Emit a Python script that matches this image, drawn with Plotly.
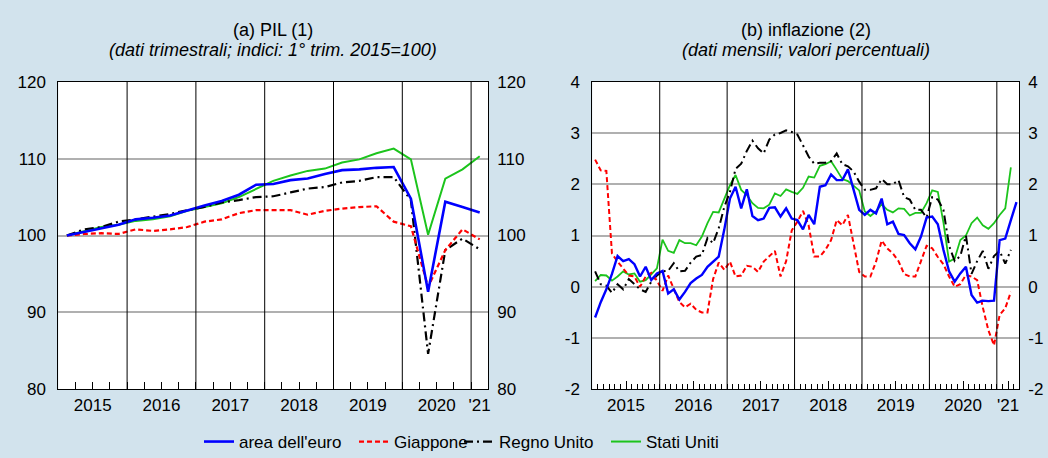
import plotly.graph_objects as go

# ------------------------------------------------------------------ data
YEARS = [2015, 2016, 2017, 2018, 2019, 2020, 2021]
YEAR_LABELS = ["2015", "2016", "2017", "2018", "2019", "2020", "'21"]

QUARTERS = [f"{y}Q{q}" for y in range(2015, 2021) for q in range(1, 5)] + ["2021Q1"]
MONTHS = [f"{y}-{m:02d}" for y in range(2015, 2021) for m in range(1, 13)] + \
         ["2021-01", "2021-02", "2021-03", "2021-04"]

SERIES_NAMES = ["area dell'euro", "Giappone", "Regno Unito", "Stati Uniti"]

# (a) GDP, quarterly index, 2015Q1 = 100
GDP_EURO = [100.0, 100.5, 100.9, 101.4, 102.1, 102.3, 102.6, 103.3, 103.9, 104.5,
            105.3, 106.6, 106.7, 107.2, 107.4, 108.0, 108.5, 108.6, 108.8, 108.9,
            104.8, 92.7, 104.4, 103.7, 103.0]
GDP_JAPAN = [100.0, 100.2, 100.3, 100.2, 100.8, 100.6, 100.8, 101.1, 101.8, 102.1,
             102.9, 103.3, 103.3, 103.3, 102.7, 103.2, 103.5, 103.7, 103.8, 101.8,
             101.2, 93.3, 98.1, 100.8, 99.5]
GDP_UK = [100.0, 100.8, 101.1, 101.8, 102.1, 102.5, 102.8, 103.3, 103.7, 104.3,
          104.6, 105.0, 105.1, 105.6, 106.1, 106.3, 106.9, 107.1, 107.6, 107.6,
          104.6, 84.6, 98.1, 99.6, 98.2]
GDP_US = [100.0, 100.6, 101.1, 101.4, 101.9, 102.1, 102.5, 103.2, 103.7, 104.2,
          105.0, 106.1, 107.1, 107.8, 108.4, 108.7, 109.5, 109.9, 110.7, 111.3,
          109.9, 100.1, 107.4, 108.6, 110.3]

# (b) inflation, monthly, percent
INFL_EURO = [-0.6, -0.3, -0.05, 0.25, 0.6, 0.5, 0.54, 0.44, 0.2, 0.39, 0.13, 0.26,
             0.31, -0.13, -0.05, -0.25, -0.1, 0.07, 0.16, 0.23, 0.39, 0.5, 0.59, 1.12,
             1.72, 1.95, 1.53, 1.9, 1.38, 1.3, 1.33, 1.54, 1.55, 1.37, 1.53, 1.33,
             1.3, 1.12, 1.4, 1.22, 1.95, 1.98, 2.19, 2.08, 2.08, 2.29, 1.89, 1.5,
             1.4, 1.5, 1.43, 1.72, 1.22, 1.27, 1.03, 1.01, 0.85, 0.73, 0.98, 1.35,
             1.37, 1.22, 0.72, 0.3, 0.1, 0.26, 0.39, -0.16, -0.31, -0.27, -0.28, -0.27,
             0.91, 0.94, 1.3, 1.65]
INFL_JAPAN = [2.48, 2.27, 2.26, 0.65, 0.49, 0.36, 0.22, 0.2, 0.0, 0.2, 0.27, 0.12,
              -0.08, 0.22, -0.05, -0.3, -0.4, -0.33, -0.45, -0.5, -0.5, 0.15, 0.47, 0.33,
              0.49, 0.2, 0.22, 0.41, 0.39, 0.29, 0.49, 0.59, 0.7, 0.2, 0.5, 1.1,
              1.27, 1.48, 1.2, 0.59, 0.59, 0.72, 0.91, 1.3, 1.2, 1.4, 0.81, 0.29,
              0.2, 0.2, 0.49, 0.9, 0.75, 0.65, 0.5, 0.25, 0.2, 0.2, 0.5, 0.8,
              0.75, 0.58, 0.44, 0.2, 0.0, 0.05, 0.23, 0.2, 0.13, -0.4, -0.85, -1.14,
              -0.55, -0.42, -0.1]
INFL_UK = [0.3, 0.05, 0.02, -0.12, 0.05, -0.05, 0.15, 0.05, -0.05, -0.1, 0.1, 0.22,
           0.3, 0.31, 0.46, 0.3, 0.31, 0.47, 0.59, 0.62, 0.95, 0.85, 1.14, 1.56,
           1.85, 2.3, 2.4, 2.65, 2.85, 2.7, 2.6, 2.87, 2.97, 3.0, 3.05, 3.02,
           2.97, 2.76, 2.54, 2.4, 2.42, 2.42, 2.45, 2.6, 2.39, 2.35, 2.25, 2.05,
           1.89, 1.89, 1.92, 2.1, 2.0, 2.0, 2.08, 1.75, 1.7, 1.5, 1.5, 1.35,
           1.75, 1.7, 1.5, 0.8, 0.5, 0.6, 1.0, 0.25, 0.5, 0.7, 0.35, 0.6,
           0.7, 0.45, 0.72]
INFL_US = [0.11, 0.23, 0.22, 0.12, 0.2, 0.3, 0.24, 0.26, 0.1, 0.13, 0.24, 0.36,
           0.92, 0.7, 0.66, 0.91, 0.85, 0.85, 0.81, 0.98, 1.24, 1.46, 1.45, 1.72,
           1.98, 2.18, 1.89, 1.79, 1.63, 1.54, 1.53, 1.6, 1.82, 1.77, 1.9, 1.85,
           1.81, 1.93, 2.15, 2.13, 2.36, 2.39, 2.45, 2.28, 2.1, 2.06, 1.97, 1.88,
           1.47, 1.38, 1.47, 1.61, 1.5, 1.45, 1.53, 1.52, 1.39, 1.44, 1.44, 1.63,
           1.88, 1.85, 1.25, 0.49, 0.55, 0.91, 1.0, 1.24, 1.35, 1.2, 1.13, 1.24,
           1.4, 1.53, 2.33]

GDP_TICKS = [80, 90, 100, 110, 120]
INFL_TICKS = [-2, -1, 0, 1, 2, 3, 4]
INFL_BLACK_LINE = -1

# ------------------------------------------------------------------ helpers
def qpos(label):
    return int(label[:4]) + (int(label[-1]) - 0.5) / 4


def mpos(label):
    return int(label[:4]) + (int(label[5:]) - 0.5) / 12


xq = [qpos(q) for q in QUARTERS]
xm = [mpos(m) for m in MONTHS]
q_end = xq[-1] + 0.125
m_end = xm[-1] + 1 / 24

STYLE = {
    "area dell'euro": dict(color="#0000ff", width=2.6, dash="solid"),
    "Giappone": dict(color="#ff0000", width=2.2, dash="5px,3px"),
    "Regno Unito": dict(color="#000000", width=2.2, dash="9px,4px,2px,4px"),
    "Stati Uniti": dict(color="#1cc41c", width=2.0, dash="solid"),
}
LEGEND_OF = {"area dell'euro": "legend", "Giappone": "legend2",
             "Regno Unito": "legend3", "Stati Uniti": "legend4"}

gdp = {"area dell'euro": GDP_EURO, "Giappone": GDP_JAPAN,
       "Regno Unito": GDP_UK, "Stati Uniti": GDP_US}
infl = {"area dell'euro": INFL_EURO, "Giappone": INFL_JAPAN,
        "Regno Unito": INFL_UK, "Stati Uniti": INFL_US}

FONT = "Liberation Sans, Arial, Helvetica, sans-serif"
BG = "#d2e3ed"
W, H = 1048, 458

fig = go.Figure()
draw_order = ["Stati Uniti", "Regno Unito", "Giappone", "area dell'euro"]
for name in draw_order:
    st = STYLE[name]
    fig.add_trace(go.Scatter(x=xq, y=gdp[name], mode="lines", name=name,
                             line=dict(color=st["color"], width=st["width"], dash=st["dash"]),
                             xaxis="x", yaxis="y", legend=LEGEND_OF[name], showlegend=True))
for name in draw_order:
    st = STYLE[name]
    vals = infl[name]
    fig.add_trace(go.Scatter(x=xm[:len(vals)], y=vals, mode="lines", name=name,
                             line=dict(color=st["color"], width=st["width"] - 0.2, dash=st["dash"]),
                             xaxis="x2", yaxis="y2", showlegend=False))
# carriers for right-hand tick labels
fig.add_trace(go.Scatter(x=[None], y=[None], xaxis="x", yaxis="y3", showlegend=False, hoverinfo="skip"))
fig.add_trace(go.Scatter(x=[None], y=[None], xaxis="x2", yaxis="y4", showlegend=False, hoverinfo="skip"))

# ------------------------------------------------------------------ layout
LX = [58.3 / W, 488.3 / W]
RX = [592.3 / W, 1019.3 / W]
YD = [1 - 389.3 / H, 1 - 81.7 / H]
tickfont = dict(family=FONT, size=17, color="#000")

q_bounds = [x - 0.125 for x in xq[1:]]
m_bounds = [x - 1 / 24 for x in xm[1:]]
mid_l = [y + 0.5 for y in YEARS[:-1]] + [(YEARS[-1] + q_end) / 2]
mid_r = [y + 0.5 for y in YEARS[:-1]] + [(YEARS[-1] + m_end) / 2]

common_x = dict(showgrid=False, zeroline=False, showline=True, mirror=True,
                linecolor="black", linewidth=1, tickfont=tickfont,
                ticktext=YEAR_LABELS, tickmode="array", automargin=False)
common_y = dict(zeroline=False, ticks="", tickfont=tickfont, ticklabelstandoff=8,
                automargin=False, tickmode="array")
fig.update_layout(
    width=W, height=H, paper_bgcolor=BG, plot_bgcolor="white",
    margin=dict(l=0, r=0, t=0, b=0, pad=0, autoexpand=False),
    font=dict(family=FONT, color="#000"),
    xaxis=dict(domain=LX, range=[YEARS[0], q_end], tickvals=mid_l, ticks="",
               minor=dict(tickmode="array", tickvals=q_bounds, ticks="inside",
                          ticklen=7, tickcolor="black", tickwidth=1, showgrid=False),
               anchor="y", **common_x),
    xaxis2=dict(domain=RX, range=[YEARS[0], m_end], tickvals=mid_r, ticks="inside",
                ticklen=8, tickcolor="black", tickwidth=1,
                minor=dict(tickmode="array", tickvals=m_bounds, ticks="inside",
                           ticklen=5, tickcolor="black", tickwidth=1, showgrid=False),
                anchor="y2", **common_x),
    yaxis=dict(domain=YD, range=[GDP_TICKS[0], GDP_TICKS[-1]],
               tickvals=GDP_TICKS, ticktext=[str(v) for v in GDP_TICKS],
               showgrid=True, gridcolor="#b0b0b0", gridwidth=1.5,
               showline=True, mirror=True, linecolor="black", linewidth=1,
               anchor="x", **common_y),
    yaxis3=dict(overlaying="y", side="right", anchor="x",
                range=[GDP_TICKS[0], GDP_TICKS[-1]],
                tickvals=GDP_TICKS, ticktext=[str(v) for v in GDP_TICKS],
                showgrid=False, showline=False, **common_y),
    yaxis2=dict(domain=YD, range=[INFL_TICKS[0], INFL_TICKS[-1]],
                tickvals=INFL_TICKS, ticktext=[str(v) for v in INFL_TICKS],
                showgrid=True, gridcolor="#b0b0b0", gridwidth=1.5,
                showline=True, mirror=True, linecolor="black", linewidth=1,
                anchor="x2", **common_y),
    yaxis4=dict(overlaying="y2", side="right", anchor="x2",
                range=[INFL_TICKS[0], INFL_TICKS[-1]],
                tickvals=INFL_TICKS, ticktext=[str(v) for v in INFL_TICKS],
                showgrid=False, showline=False, **common_y),
)

# year separators
shapes = []
for y in YEARS[1:]:
    shapes.append(dict(type="line", xref="x", yref="y domain", x0=y, x1=y, y0=0, y1=1,
                       line=dict(color="black", width=1), layer="above"))
    shapes.append(dict(type="line", xref="x2", yref="y2 domain", x0=y, x1=y, y0=0, y1=1,
                       line=dict(color="black", width=1), layer="above"))
shapes.append(dict(type="line", xref="x2 domain", yref="y2", x0=0, x1=1,
                   y0=INFL_BLACK_LINE, y1=INFL_BLACK_LINE,
                   line=dict(color="black", width=1), layer="below"))
fig.update_layout(shapes=shapes)

# panel titles
titles = [("(a) PIL (1)", "(dati trimestrali; indici: 1° trim. 2015=100)", LX),
          ("(b) inflazione (2)", "(dati mensili; valori percentuali)", RX)]
ann = []
for t, s, dom in titles:
    cx = (dom[0] + dom[1]) / 2
    ann.append(dict(text=t, x=cx, y=1 - 30 / H, xref="paper", yref="paper",
                    xanchor="center", yanchor="middle", showarrow=False,
                    font=dict(family=FONT, size=18, color="#000")))
    ann.append(dict(text=f"<i>{s}</i>", x=cx, y=1 - 50 / H, xref="paper", yref="paper",
                    xanchor="center", yanchor="middle", showarrow=False,
                    font=dict(family=FONT, size=18, color="#000")))
fig.update_layout(annotations=ann)

# legends
text_x = {"legend": 240, "legend2": 395, "legend3": 500, "legend4": 647}
for key, tx in text_x.items():
    fig.update_layout({key: dict(x=(tx - 41) / W, y=1 - 442 / H, xanchor="left",
                                 yanchor="middle", orientation="h",
                                 bgcolor="rgba(0,0,0,0)", borderwidth=0,
                                 itemwidth=30,
                                 font=dict(family=FONT, size=17, color="#000"))})

fig.write_html("out.html", config={"displayModeBar": False},
               post_script="document.body.style.margin='0';document.body.style.padding='0';")
